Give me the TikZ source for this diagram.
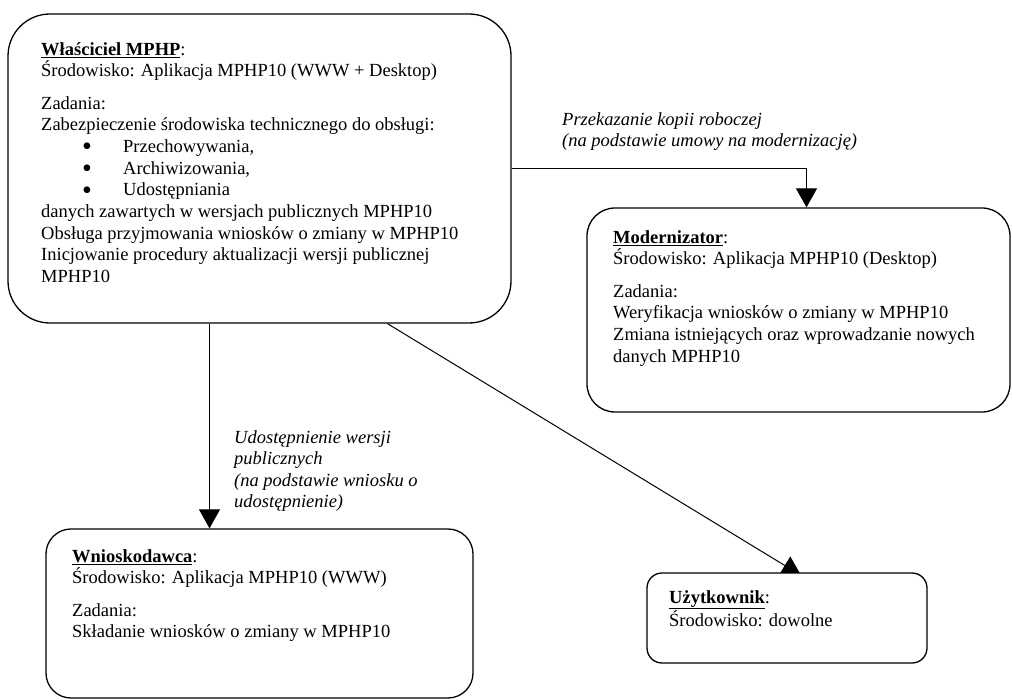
\documentclass[tikz,border=0pt]{standalone}
\usepackage{fontspec}
\setmainfont{Liberation Serif}
\usetikzlibrary{calc,arrows.meta}
\pgfdeclarelayer{bg}
\pgfsetlayers{bg,main}
\newcommand{\firstline}{\rule{0pt}{14pt}}
\newcommand{\pkt}{\makebox[82pt][l]{\hspace*{41pt}\smash{\raisebox{-3.5pt}{\fontsize{28}{28}\selectfont\textbullet}}}}

\begin{document}
\begin{tikzpicture}
      [x=1pt,y=1pt
      ,box/.style={rectangle,draw,line width=1.3pt,fill=white,inner sep=0}
      ,txt/.style={anchor=north west,align=left,inner sep=0,font=\fontsize{18.5}{21.7}\selectfont}
      ,lab/.style={txt,font=\fontsize{18.5}{21.5}\selectfont\itshape}
      ,arr/.style={line width=1pt,-{Triangle[length=19pt,width=21pt]}}]
        \useasboundingbox (0,0) rectangle (1012,-700);
        \node[box,rounded corners=42pt,minimum width=503pt,minimum height=309pt] (own) at (259.5,-168.5){};
        \node[box,rounded corners=28pt,minimum width=423pt,minimum height=204pt] (mod) at (798.5,-310){};
        \node[box,rounded corners=25pt,minimum width=427pt,minimum height=169pt] (wn)  at (259.5,-613.5){};
        \node[box,rounded corners=15pt,minimum width=280pt,minimum height=90pt]  (uzy) at (787,-618){};
        \node[txt] (ownTxt) at (41,-41){\firstline\underline{\textbf{Właściciel MPHP}}:\\
          Środowisko: Aplikacja MPHP10 (WWW + Desktop)\\[10.5pt]
          Zadania:\\
          Zabezpieczenie środowiska technicznego do obsługi:\\
          \pkt Przechowywania,\\
          \pkt Archiwizowania,\\
          \pkt Udostępniania\\
          danych zawartych w wersjach publicznych MPHP10\\
          Obsługa przyjmowania wniosków o zmiany w MPHP10\\
          Inicjowanie procedury aktualizacji wersji publicznej\\
          MPHP10};
        \node[txt] (modTxt) at (613,-229){\firstline\underline{\textbf{Modernizator}}:\\
          Środowisko: Aplikacja MPHP10 (Desktop)\\[10.5pt]
          Zadania:\\
          Weryfikacja wniosków o zmiany w MPHP10\\
          Zmiana istniejących oraz wprowadzanie nowych\\
          danych MPHP10};
        \node[txt] (wnTxt) at (72,-548){\firstline\underline{\textbf{Wnioskodawca}}:\\
          Środowisko: Aplikacja MPHP10 (WWW)\\[10.5pt]
          Zadania:\\
          Składanie wniosków o zmiany w MPHP10};
        \node[txt] (uzyTxt) at (669,-589){\firstline\underline{\textbf{Użytkownik}}:\\
          Środowisko: dowolne};
        \node[lab] (kopia) at (562,-111){\firstline Przekazanie kopii roboczej\\
          (na podstawie umowy na modernizację)};
        \node[lab] (udost) at (234,-429){\firstline Udostępnienie wersji\\
          publicznych\\
          (na podstawie wniosku o\\
          udostępnienie)};
        \coordinate (modIn)  at ($(mod.north)+(8,0)$);
        \coordinate (ownOut) at ($(own.south)+(-50,0)$);
        \coordinate (ownUzy) at ($(own.south)+(128,0)$);
        \coordinate (uzyIn)  at ($(uzy.north)+(14,-3)$);
        \begin{pgfonlayer}{bg}
        \draw[arr] (own.east) -| (modIn);
        \draw[arr] (ownOut) -- (ownOut |- wn.north);
        \draw[arr] (ownUzy) -- (uzyIn);
        \end{pgfonlayer}
      \end{tikzpicture}
\end{document}
